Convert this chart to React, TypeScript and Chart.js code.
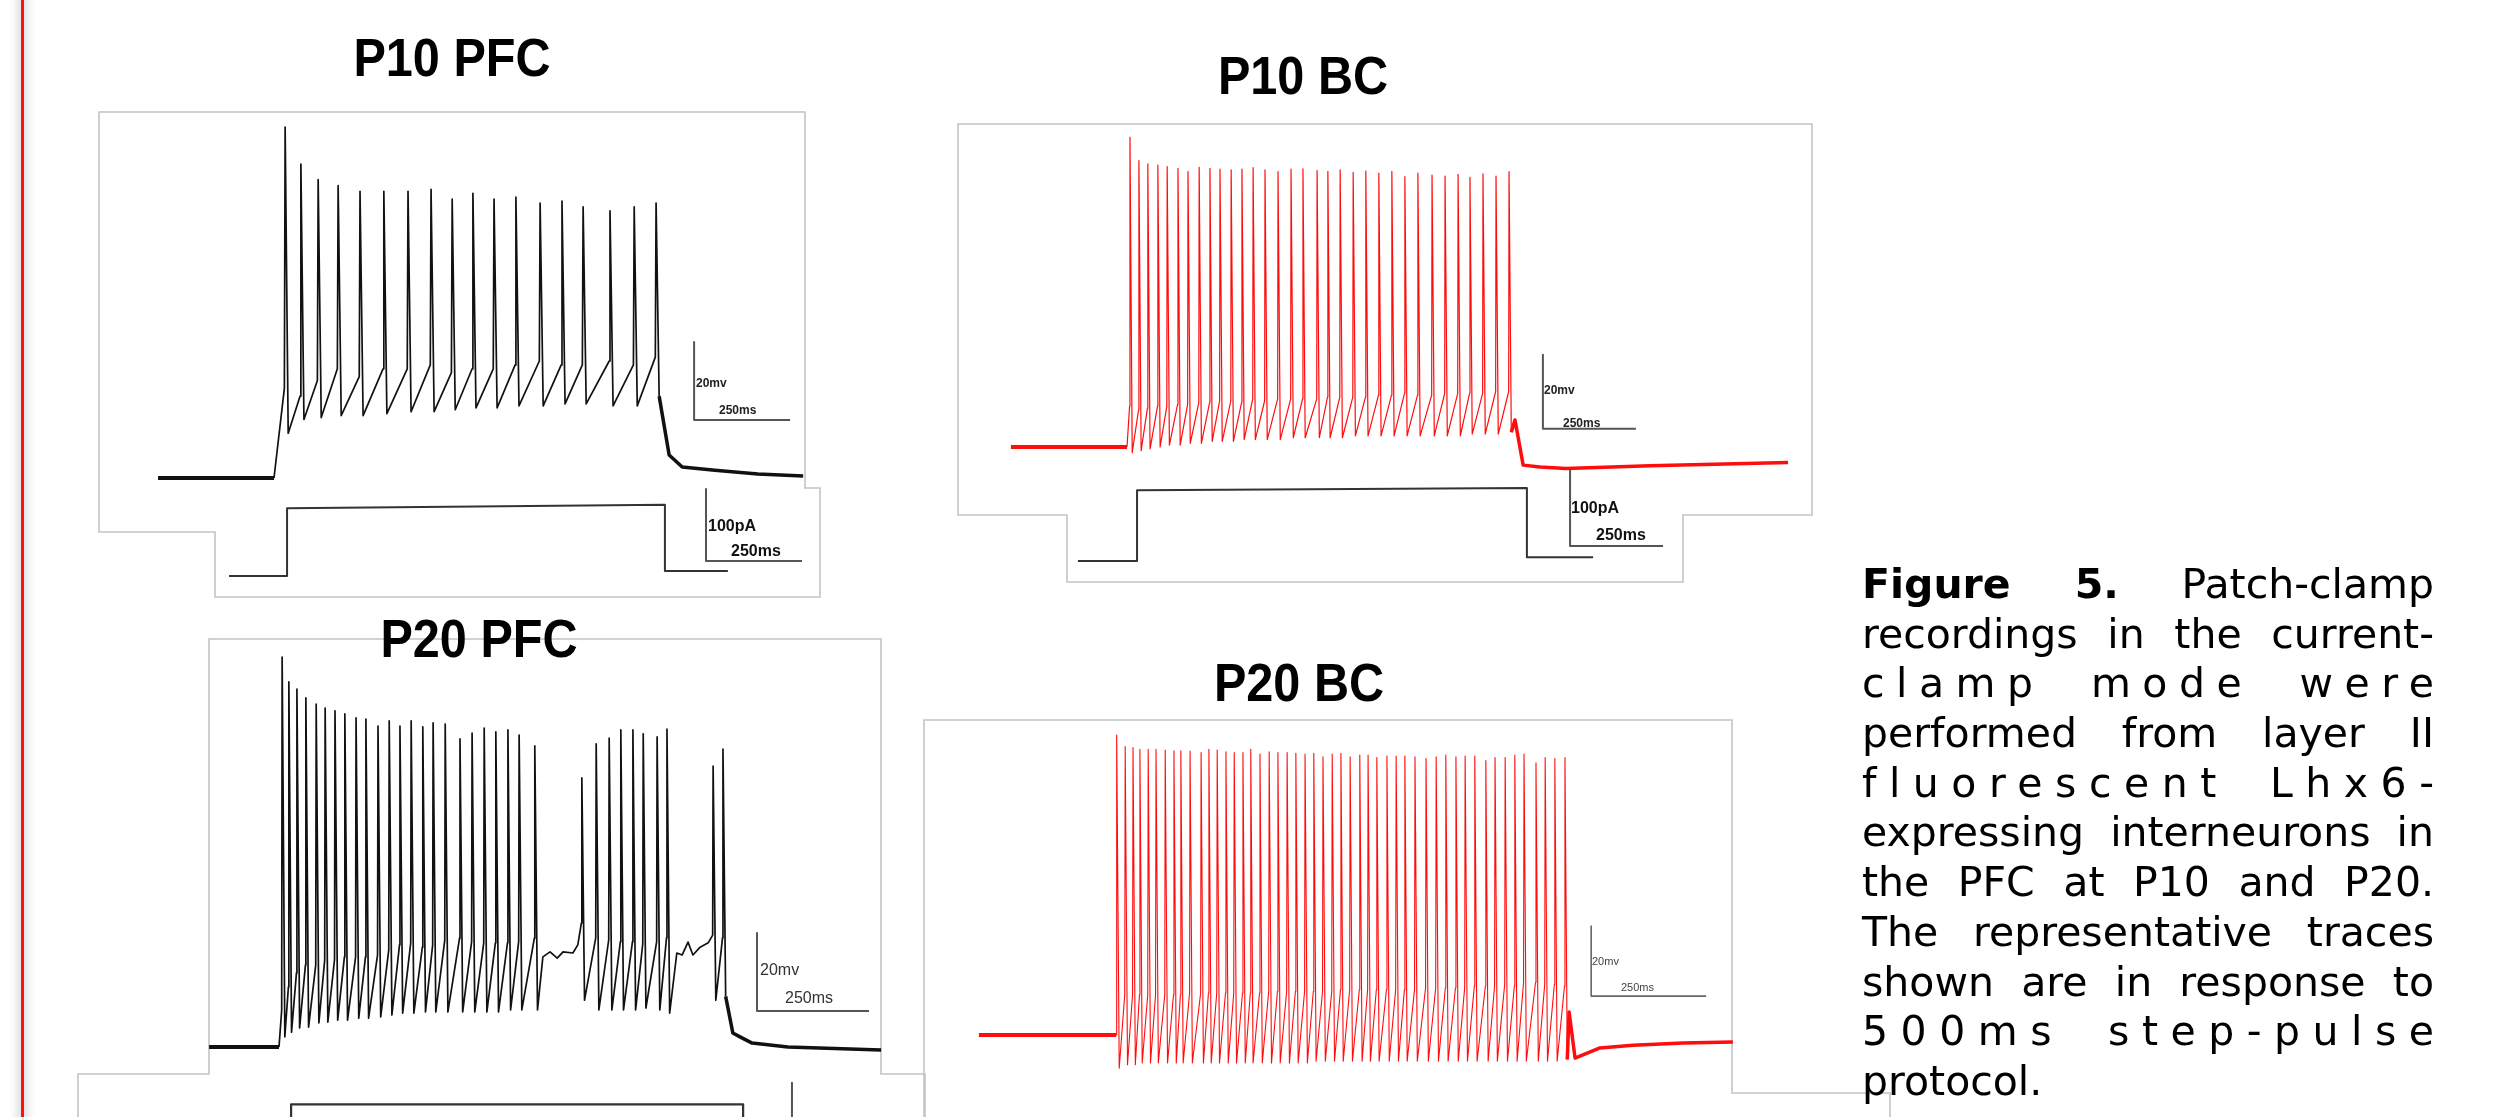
import React, { useEffect, useRef } from "react";
import { Chart, registerables } from "chart.js";

Chart.register(...registerables);

// ---------------- P10 PFC (black) : t in ms, V in mV, I in pA ----------------
const p10PfcBaseT = [-302, 0];
const p10PfcBaseV = [-70, -70];
const p10PfcSpikeT = [29, 70, 115, 167, 224, 286, 349, 409, 464, 518, 573, 630, 693, 750, 805, 875, 938, 995];
const p10PfcPeakV = [20, 10.5, 6.5, 5, 3.5, 3.5, 3.5, 4, 1.5, 3, 1.5, 2, 0.5, 1, -0.5, -1.5, -0.5, 0.5];
const p10PfcThreshV = [-47, -49, -45, -42, -44, -42, -42, -41, -43, -42, -42, -41, -40, -41, -41, -40, -41, -39];
const p10PfcTroughV = [-58.5, -55, -54.5, -54, -54, -53.5, -53, -53, -52.5, -52, -52, -51.5, -51.5, -51, -51, -51.5, -51.5, -49];
const p10PfcTailT = [1029, 1063, 1148, 1260, 1378];
const p10PfcTailV = [-64.1, -67.2, -68, -69, -69.5];
const p10PfcStepT = [-117, 34, 34, 1018, 1018, 1182];
const p10PfcStepI = [0, 0, 94, 99, 7, 7];
const p10PfcVBarT = [1094, 1094, 1344];
const p10PfcVBarV = [-35.1, -55.1, -55.1];
const p10PfcIBarT = [1125, 1125, 1375];
const p10PfcIBarI = [120.8, 20.8, 20.8];

// ---------------- P10 BC (red) ----------------
const p10BcBaseT = [-312, 0];
const p10BcBaseV = [-70, -70];
const p10BcSpikeT = [8, 32, 56, 83, 108, 137, 164, 194, 223, 250, 280, 309, 339, 371, 406, 441, 473, 511, 540, 573, 608, 642, 677, 712, 747, 782, 820, 855, 890, 922, 957, 992, 1027];
const p10BcPeakV = [13.7, 7.4, 6.5, 6.2, 5.8, 5.3, 4.4, 5.6, 5.3, 5.1, 4.9, 5.1, 5.5, 4.9, 4.4, 5.1, 5.2, 4.7, 4.5, 4.9, 4.2, 4.6, 4.0, 4.5, 3.1, 4.0, 3.5, 3.2, 3.7, 2.9, 3.8, 3.2, 4.4];
const p10BcThreshV = [-59, -60, -59.5, -59, -59, -58.5, -58.5, -58, -58, -57.5, -57.5, -58, -57, -57.5, -57, -57, -57, -57, -56.5, -56.5, -56.5, -56.5, -56, -56, -55.5, -56, -56, -55.5, -55.5, -55.5, -55.5, -55, -55];
const p10BcTroughV = [-71.5, -71, -70.5, -70, -69.5, -69.5, -69, -69, -68.5, -68.5, -68.5, -68, -68, -68, -68, -67.5, -67.5, -67.5, -67.5, -67.5, -67, -67, -67, -67, -67, -67, -67, -67, -67, -66.5, -66.5, -66.5, -66];
const p10BcTailT = [1043, 1065, 1110, 1180, 1406, 1777];
const p10BcTailV = [-62.7, -74.9, -75.4, -75.8, -75.1, -74.2];
const p10BcStepT = [-132, 27, 27, 1075, 1075, 1253];
const p10BcStepI = [0, 0, 93, 96, 5, 5];
const p10BcVBarT = [1118, 1118, 1368];
const p10BcVBarV = [-45.1, -65.1, -65.1];
const p10BcIBarT = [1191, 1191, 1441];
const p10BcIBarI = [119.7, 19.7, 19.7];

// ---------------- P20 PFC (black) ----------------
const p20PfcBaseT = [-156, 0];
const p20PfcBaseV = [-70, -70];
const p20PfcSpikeT = [7, 22, 40, 60, 83, 103, 125, 147, 172, 194, 221, 246, 270, 295, 321, 344, 371, 404, 431, 458, 484, 511, 536, 571, 676, 708, 737, 763, 790, 813, 844, 866, 969, 991];
const p20PfcPeakV = [30, 23.6, 21.8, 19.5, 17.9, 16.9, 16.2, 15.4, 14.4, 14.1, 12.3, 13.6, 12.3, 13.6, 12.1, 13.1, 12.8, 9, 10.5, 11.8, 10.8, 11.3, 10, 7.2, -1, 7.7, 9.2, 11.3, 11.3, 10.3, 9.5, 11.5, 2, 6.4];
const p20PfcThreshV = [-60.5, -54.6, -51, -49, -49, -47.7, -47.5, -46.9, -46.9, -46.9, -46.4, -45.1, -43.8, -43.3, -44.4, -43.8, -42.6, -42.1, -43, -43.3, -43.3, -43.3, -43, -42.1, -38.2, -42, -42.5, -43, -43, -43.5, -43, -42, -41.3, -42];
const p20PfcTroughV = [-67.4, -66.2, -65.1, -64.9, -63.8, -63.6, -63.1, -63.1, -62.6, -62.6, -62.3, -61.8, -61.3, -61.3, -61, -61, -61, -61, -61, -61, -61, -60.5, -60.5, -60.5, -58, -60.5, -60.5, -60.5, -60.5, -60, -60.5, -61.3, -58, -57];
const p20PfcPauseT = [589, 605, 621, 634, 656, 667, 888, 900, 913, 924, 940, 958];
const p20PfcPauseV = [-46.9, -45.6, -47.2, -45.6, -45.9, -43.8, -45.9, -46.4, -43.1, -46.4, -44.4, -43.3];
const p20PfcTailT = [1013, 1029, 1056, 1136, 1344];
const p20PfcTailV = [-66.4, -67.4, -69, -70, -70.8];
const p20PfcStepT = [-110, 27, 27, 1036, 1036, 1180];
const p20PfcStepI = [0, 0, 94, 94, 0, 0];
const p20PfcVBarT = [1067, 1067, 1317];
const p20PfcVBarV = [-40.8, -60.8, -60.8];
const p20PfcIBarT = [1145, 1145, 1395];
const p20PfcIBarI = [124, 24, 24];

// ---------------- P20 BC (red) ----------------
const p20BcBaseT = [-298, 0];
const p20BcBaseV = [-70, -70];
const p20BcSpikeT = [2, 20, 37, 52, 70, 87, 107, 126, 141, 161, 185, 202, 220, 239, 257, 276, 293, 313, 333, 352, 372, 391, 411, 430, 450, 470, 489, 509, 530, 548, 567, 589, 609, 628, 650, 674, 696, 717, 739, 759, 780, 804, 824, 846, 867, 887, 913, 933, 954, 976];
const p20BcPeakV = [15.7, 12.4, 12.1, 11.6, 11.6, 11.6, 11.4, 11.2, 11.2, 11.1, 10.7, 11.6, 11.4, 10.9, 10.7, 10.7, 11.6, 10.3, 10.9, 10.7, 10.7, 10.5, 10.3, 10.5, 9.5, 10.3, 10.5, 9.5, 10.0, 10.0, 9.3, 9.7, 9.7, 9.7, 9.5, 9.0, 9.5, 10.0, 9.5, 9.7, 9.7, 8.4, 9.3, 9.3, 10.0, 10.3, 7.8, 9.3, 9.0, 9.3];
const p20BcThreshV = [-62, -58.5, -58.5, -58.5, -58.5, -58.5, -58.5, -58.5, -58.5, -58, -58, -58, -58, -58, -58, -58, -58, -58, -57.5, -57.5, -57.5, -57.5, -57.5, -57.5, -57.5, -57.5, -57, -57, -57, -57, -57, -57, -57, -57, -57, -56.5, -56.5, -56.5, -56.5, -56.5, -56, -56, -56, -55.5, -56, -55, -55, -55.5, -55.5, -56];
const p20BcTroughV = [-79.5, -78.5, -78.5, -78, -78, -78, -78, -78, -78, -78, -78, -78, -78, -78, -78, -78, -78, -78, -78, -78, -78, -78, -78, -77.5, -77.5, -77.5, -77.5, -77.5, -77.5, -77.5, -77.5, -77.5, -77.5, -77.5, -77.5, -77.5, -77.5, -77.5, -77.5, -77.5, -77.5, -77.5, -77.5, -77.5, -77.5, -77.5, -77.5, -77.5, -77.5, -77];
const p20BcTailT = [985, 998, 1052, 1124, 1233, 1341];
const p20BcTailV = [-63.4, -76.6, -73.7, -72.9, -72.3, -72];
const p20BcVBarT = [1033, 1033, 1283];
const p20BcVBarV = [-38.9, -58.9, -58.9];

// ---------------- helpers ----------------
type XY = { x: number; y: number };
type Geo = {
  left: number; top: number; width: number; height: number;
  x0: number; pxPerMs: number; y0: number; pxPerMv: number;
  i0: number; pxPerPa: number;
};
type Series = { data: XY[]; color: string; width: number; axis?: "y" | "yI" };

const REST_MV = -70;

const pts = (t: number[], v: number[]): XY[] => t.map((x, i) => ({ x, y: v[i] }));

function spikeTrain(
  spikeT: number[], peakV: number[], threshV: number[], troughV: number[],
  d1: number, d2: number, extraT: number[] = [], extraV: number[] = []
): XY[] {
  const out: XY[] = [{ x: 0, y: REST_MV }];
  spikeT.forEach((t, i) => {
    out.push({ x: t - d1, y: threshV[i] }, { x: t, y: peakV[i] }, { x: t + d2, y: troughV[i] });
  });
  extraT.forEach((t, i) => out.push({ x: t, y: extraV[i] }));
  out.sort((a, b) => a.x - b.x);
  return out;
}

function withStart(start: XY, rest: XY[]): XY[] {
  return [start, ...rest];
}

// ---------------- panels ----------------
const BLACK = "#111111";
const RED = "#ff0d0d";
const BAR = "#555555";
const STEP = "#333333";

const p1Train = spikeTrain(p10PfcSpikeT, p10PfcPeakV, p10PfcThreshV, p10PfcTroughV, 2, 8);
const p2Train = spikeTrain(p10BcSpikeT, p10BcPeakV, p10BcThreshV, p10BcTroughV, 1, 6);
const p3Train = spikeTrain(p20PfcSpikeT, p20PfcPeakV, p20PfcThreshV, p20PfcTroughV, 1, 6, p20PfcPauseT, p20PfcPauseV);
const p4Train = spikeTrain(p20BcSpikeT, p20BcPeakV, p20BcThreshV, p20BcTroughV, 1, 5);

const panels: { key: string; geo: Geo; outline: number[][]; series: Series[] }[] = [
  {
    key: "p10pfc",
    geo: { left: 90, top: 104, width: 740, height: 500, x0: 274, pxPerMs: 0.384, y0: 478, pxPerMv: 3.9, i0: 576, pxPerPa: 0.72 },
    outline: [[99, 112], [805, 112], [805, 488], [820, 488], [820, 597], [215, 597], [215, 532], [99, 532]],
    series: [
      { data: pts(p10PfcBaseT, p10PfcBaseV), color: BLACK, width: 4 },
      { data: p1Train, color: BLACK, width: 1.7 },
      { data: withStart(p1Train[p1Train.length - 1], pts(p10PfcTailT, p10PfcTailV)), color: BLACK, width: 3.5 },
      { data: pts(p10PfcStepT, p10PfcStepI), color: STEP, width: 2, axis: "yI" },
      { data: pts(p10PfcVBarT, p10PfcVBarV), color: BAR, width: 2 },
      { data: pts(p10PfcIBarT, p10PfcIBarI), color: BAR, width: 2, axis: "yI" },
    ],
  },
  {
    key: "p10bc",
    geo: { left: 945, top: 116, width: 880, height: 474, x0: 1127, pxPerMs: 0.372, y0: 447, pxPerMv: 3.7, i0: 561, pxPerPa: 0.76 },
    outline: [[958, 124], [1812, 124], [1812, 515], [1683, 515], [1683, 582], [1067, 582], [1067, 515], [958, 515]],
    series: [
      { data: pts(p10BcBaseT, p10BcBaseV), color: RED, width: 4 },
      { data: p2Train, color: RED, width: 1.2 },
      { data: withStart(p2Train[p2Train.length - 1], pts(p10BcTailT, p10BcTailV)), color: RED, width: 3.5 },
      { data: pts(p10BcStepT, p10BcStepI), color: STEP, width: 2, axis: "yI" },
      { data: pts(p10BcVBarT, p10BcVBarV), color: BAR, width: 2 },
      { data: pts(p10BcIBarT, p10BcIBarI), color: BAR, width: 2, axis: "yI" },
    ],
  },
  {
    key: "p20pfc",
    geo: { left: 68, top: 628, width: 872, height: 489, x0: 279, pxPerMs: 0.448, y0: 1047, pxPerMv: 3.9, i0: 1172, pxPerPa: 0.72 },
    outline: [[209, 639], [881, 639], [881, 1074], [925, 1074], [925, 1140], [78, 1140], [78, 1074], [209, 1074]],
    series: [
      { data: pts(p20PfcBaseT, p20PfcBaseV), color: BLACK, width: 4 },
      { data: p3Train, color: BLACK, width: 1.7 },
      { data: withStart(p3Train[p3Train.length - 1], pts(p20PfcTailT, p20PfcTailV)), color: BLACK, width: 3.5 },
      { data: pts(p20PfcStepT, p20PfcStepI), color: STEP, width: 2.2, axis: "yI" },
      { data: pts(p20PfcVBarT, p20PfcVBarV), color: BAR, width: 2 },
      { data: pts(p20PfcIBarT, p20PfcIBarI), color: BAR, width: 2, axis: "yI" },
    ],
  },
  {
    key: "p20bc",
    geo: { left: 915, top: 712, width: 990, height: 405, x0: 1116, pxPerMs: 0.46, y0: 1035, pxPerMv: 3.5, i0: 1200, pxPerPa: 0.72 },
    outline: [[924, 720], [1732, 720], [1732, 1093], [1890, 1093], [1890, 1140], [924, 1140]],
    series: [
      { data: pts(p20BcBaseT, p20BcBaseV), color: RED, width: 4 },
      { data: p4Train, color: RED, width: 1.1 },
      { data: withStart(p4Train[p4Train.length - 1], pts(p20BcTailT, p20BcTailV)), color: RED, width: 3.5 },
      { data: pts(p20BcVBarT, p20BcVBarV), color: "#666666", width: 1.6 },
    ],
  },
];

function buildConfig(geo: Geo, outline: number[][], series: Series[]) {
  const xMin = (geo.left - geo.x0) / geo.pxPerMs;
  const xMax = (geo.left + geo.width - geo.x0) / geo.pxPerMs;
  const yMax = REST_MV + (geo.y0 - geo.top) / geo.pxPerMv;
  const yMin = REST_MV + (geo.y0 - geo.top - geo.height) / geo.pxPerMv;
  const iMax = (geo.i0 - geo.top) / geo.pxPerPa;
  const iMin = (geo.i0 - geo.top - geo.height) / geo.pxPerPa;

  const outlinePlugin = {
    id: "panelOutline",
    beforeDatasetsDraw(chart: any) {
      const ctx = chart.ctx as CanvasRenderingContext2D;
      ctx.save();
      ctx.strokeStyle = "#c4c4c4";
      ctx.lineWidth = 1.6;
      ctx.beginPath();
      outline.forEach(([px, py], i) => {
        const x = px - geo.left;
        const y = py - geo.top;
        if (i === 0) ctx.moveTo(x, y);
        else ctx.lineTo(x, y);
      });
      ctx.closePath();
      ctx.stroke();
      ctx.restore();
    },
  };

  return {
    type: "line",
    data: {
      datasets: series.map((s) => ({
        data: s.data,
        borderColor: s.color,
        backgroundColor: s.color,
        borderWidth: s.width,
        pointRadius: 0,
        tension: 0,
        fill: false,
        borderJoinStyle: "round",
        yAxisID: s.axis || "y",
        xAxisID: "x",
      })),
    },
    options: {
      responsive: false,
      maintainAspectRatio: false,
      animation: false,
      devicePixelRatio: 1,
      events: [],
      layout: { padding: 0 },
      plugins: {
        legend: { display: false },
        tooltip: { enabled: false },
        title: { display: false },
      },
      scales: {
        x: { type: "linear", min: xMin, max: xMax, display: false },
        y: { type: "linear", min: yMin, max: yMax, display: false },
        yI: { type: "linear", min: iMin, max: iMax, display: false },
      },
    },
    plugins: [outlinePlugin],
  };
}

function TracePanel({ geo, outline, series }: { geo: Geo; outline: number[][]; series: Series[] }) {
  const ref = useRef<HTMLCanvasElement | null>(null);
  useEffect(() => {
    if (!ref.current) return;
    const chart = new Chart(ref.current, buildConfig(geo, outline, series) as any);
    return () => chart.destroy();
  }, [geo, outline, series]);
  return (
    <canvas
      ref={ref}
      width={geo.width}
      height={geo.height}
      style={{ position: "absolute", left: geo.left, top: geo.top, width: geo.width, height: geo.height, display: "block" }}
    />
  );
}

// ---------------- text ----------------
const titles = [
  { text: "P10 PFC", cx: 452, top: 30 },
  { text: "P10 BC", cx: 1303, top: 48 },
  { text: "P20 PFC", cx: 479, top: 611 },
  { text: "P20 BC", cx: 1299, top: 655 },
];

const barLabels = [
  { text: "20mv", left: 696, top: 377, size: 12, bold: true, color: "#222" },
  { text: "250ms", left: 719, top: 404, size: 12, bold: true, color: "#222" },
  { text: "100pA", left: 708, top: 518, size: 16, bold: true, color: "#111" },
  { text: "250ms", left: 731, top: 543, size: 16, bold: true, color: "#111" },
  { text: "20mv", left: 1544, top: 384, size: 12, bold: true, color: "#222" },
  { text: "250ms", left: 1563, top: 417, size: 12, bold: true, color: "#222" },
  { text: "100pA", left: 1571, top: 500, size: 16, bold: true, color: "#111" },
  { text: "250ms", left: 1596, top: 527, size: 16, bold: true, color: "#111" },
  { text: "20mv", left: 760, top: 962, size: 16, bold: false, color: "#333" },
  { text: "250ms", left: 785, top: 990, size: 16, bold: false, color: "#333" },
  { text: "20mv", left: 1592, top: 956, size: 11, bold: false, color: "#444" },
  { text: "250ms", left: 1621, top: 982, size: 11, bold: false, color: "#444" },
];

const captionLines: { text: string; ls: number; last?: boolean }[] = [
  { text: "Patch-clamp", ls: 0 },
  { text: "recordings in the current-", ls: 0 },
  { text: "clamp mode were", ls: 11.5 },
  { text: "performed from layer II", ls: 0 },
  { text: "fluorescent Lhx6-", ls: 12.5 },
  { text: "expressing interneurons in", ls: 0 },
  { text: "the PFC at P10 and P20.", ls: 0 },
  { text: "The representative traces", ls: 0 },
  { text: "shown are in response to", ls: 0 },
  { text: "500ms step-pulse", ls: 12.5 },
  { text: "protocol.", ls: 0, last: true },
];

export default function App() {
  const capFont = '"DejaVu Sans", Verdana, sans-serif';
  return (
    <div
      style={{
        position: "fixed",
        left: 0,
        top: 0,
        width: 2499,
        height: 1117,
        overflow: "hidden",
        background: "#ffffff",
      }}
    >
      {/* left red rule */}
      <div
        style={{
          position: "absolute",
          left: 21,
          top: -20,
          width: 3,
          height: 1160,
          background: "#ff1010",
          boxShadow: "0 0 9px 4px rgba(0,0,0,0.13)",
        }}
      />
      {panels.map((p) => (
        <TracePanel key={p.key} geo={p.geo} outline={p.outline} series={p.series} />
      ))}
      {titles.map((t) => (
        <div
          key={t.text}
          style={{
            position: "absolute",
            left: t.cx - 300,
            top: t.top,
            width: 600,
            textAlign: "center",
            fontFamily: '"Liberation Sans", Arial, sans-serif',
            fontWeight: 700,
            fontSize: 54,
            lineHeight: "54px",
            color: "#000",
            transform: "scaleX(0.9)",
            whiteSpace: "nowrap",
          }}
        >
          {t.text}
        </div>
      ))}
      {barLabels.map((l, i) => (
        <div
          key={i}
          style={{
            position: "absolute",
            left: l.left,
            top: l.top,
            fontFamily: '"Liberation Sans", Arial, sans-serif',
            fontWeight: l.bold ? 700 : 400,
            fontSize: l.size,
            lineHeight: `${l.size}px`,
            color: l.color,
            whiteSpace: "nowrap",
          }}
        >
          {l.text}
        </div>
      ))}
      <div
        style={{
          position: "absolute",
          left: 1862,
          top: 560,
          width: 572,
          fontFamily: capFont,
          fontSize: 41,
          lineHeight: "49.7px",
          color: "#000",
        }}
      >
        {captionLines.map((ln, i) => (
          <div
            key={i}
            style={{
              height: 49.7,
              width: 572 + ln.ls,
              textAlign: ln.last ? "left" : "justify",
              textAlignLast: ln.last ? "left" : "justify",
              letterSpacing: ln.ls,
            } as React.CSSProperties}
          >
            {i === 0 ? (
              <>
                <span style={{ fontWeight: 700 }}>Figure 5.</span> {ln.text}
              </>
            ) : (
              ln.text
            )}
          </div>
        ))}
      </div>
    </div>
  );
}
